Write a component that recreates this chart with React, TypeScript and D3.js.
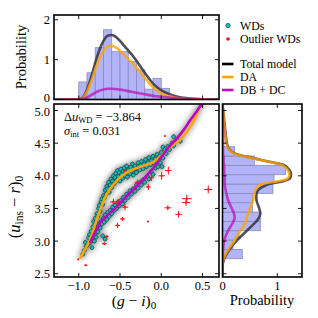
import React, { useEffect, useRef } from "react";
import * as d3 from "d3";

// ---- top histogram of (g-i)_0 ----
const topBinEdges = [-1.0, -0.9, -0.8, -0.7, -0.6, -0.5, -0.4, -0.3, -0.2, -0.1, 0.0, 0.1, 0.2];
const topBinHeights = [0.44, 0.67, 1.3, 1.75, 1.2, 1.2, 0.95, 0.74, 0.26, 0.53, 0.28, 0.05];

// model curves, top panel
const topX = [-1.3, -1.0, -0.95, -0.9, -0.85, -0.8, -0.75, -0.7, -0.65, -0.6, -0.55, -0.5, -0.45, -0.4, -0.35, -0.3, -0.25, -0.2, -0.15, -0.1, -0.05, 0.0, 0.1, 0.2, 0.3, 0.4, 0.5, 0.7];
const topTotal = [0, 0, 0.05, 0.25, 0.56, 0.92, 1.24, 1.47, 1.6, 1.62, 1.57, 1.47, 1.35, 1.23, 1.11, 0.97, 0.82, 0.67, 0.53, 0.4, 0.31, 0.23, 0.13, 0.07, 0.035, 0.015, 0.005, 0];
const topDA = [0, 0, 0.04, 0.2, 0.45, 0.75, 1.02, 1.22, 1.33, 1.35, 1.31, 1.22, 1.12, 1.02, 0.92, 0.8, 0.67, 0.54, 0.42, 0.31, 0.23, 0.16, 0.08, 0.035, 0.015, 0.005, 0, 0];
const topDB = [0, 0, 0.01, 0.05, 0.11, 0.17, 0.22, 0.25, 0.27, 0.27, 0.26, 0.25, 0.23, 0.21, 0.19, 0.17, 0.15, 0.13, 0.11, 0.095, 0.08, 0.07, 0.05, 0.035, 0.02, 0.01, 0.005, 0];

// ---- right histogram of (u_ins - r)_0 ----
const rightBinEdges = [2.73, 2.873, 3.016, 3.159, 3.302, 3.445, 3.588, 3.731, 3.874, 4.017, 4.16, 4.303, 4.446];
const rightBinWidths = [0.36, 0.19, 0.3, 0.69, 0.69, 0.55, 0.55, 0.92, 0.94, 1.15, 0.58, 0.22];

const rightY = [5.1, 4.7, 4.5, 4.42, 4.34, 4.29, 4.21, 4.16, 4.09, 4.02, 3.96, 3.92, 3.86, 3.77, 3.63, 3.5, 3.42, 3.35, 3.27, 3.14, 3.01, 2.86, 2.71, 2.45];
const rightTotal = [0, 0.05, 0.08, 0.11, 0.23, 0.46, 0.88, 1.13, 1.22, 1.25, 1.23, 1.12, 0.8, 0.64, 0.62, 0.67, 0.69, 0.66, 0.58, 0.42, 0.26, 0.12, 0.02, 0];
const rightDA = [0, 0.04, 0.07, 0.1, 0.22, 0.44, 0.86, 1.1, 1.19, 1.22, 1.19, 1.04, 0.68, 0.59, 0.56, 0.5, 0.47, 0.44, 0.41, 0.31, 0.22, 0.1, 0.01, 0];
const rightDB = [0, 0.01, 0.01, 0.01, 0.01, 0.02, 0.02, 0.03, 0.03, 0.03, 0.04, 0.04, 0.04, 0.06, 0.1, 0.17, 0.21, 0.22, 0.18, 0.09, 0.03, 0.01, 0, 0];

// ---- main panel model tracks ----
const daCurveG = [-0.985, -0.93, -0.864, -0.8, -0.74, -0.68, -0.62, -0.52, -0.43, -0.339, -0.25, -0.176, -0.1, -0.055, 0.0, 0.066, 0.15, 0.227, 0.3, 0.35, 0.4, 0.47, 0.52];
const daCurveU = [2.73, 2.86, 3.02, 3.26, 3.48, 3.67, 3.8, 3.95, 4.04, 4.1, 4.14, 4.17, 4.21, 4.25, 4.31, 4.4, 4.48, 4.55, 4.66, 4.75, 4.86, 5.06, 5.15];
const dbCurveG = [-0.864, -0.8, -0.74, -0.66, -0.58, -0.5, -0.42, -0.34, -0.258, -0.18, -0.097, 0.025, 0.1, 0.187, 0.27, 0.35, 0.42, 0.49, 0.52];
const dbCurveU = [2.97, 3.14, 3.28, 3.39, 3.48, 3.58, 3.69, 3.79, 3.89, 4.0, 4.12, 4.33, 4.45, 4.57, 4.7, 4.85, 4.97, 5.1, 5.15];

// WDs: [(g-i)_0, (u_ins-r)_0]
const wdPoints: [number, number][] = [
  [-0.95, 2.8], [-0.93, 2.86], [-0.91, 2.92], [-0.92, 2.98], [-0.89, 2.95], [-0.88, 3.05], [-0.87, 3.1], [-0.86, 3.0],
  [-0.85, 3.15], [-0.84, 3.08], [-0.83, 3.22], [-0.82, 3.3], [-0.81, 3.18], [-0.8, 3.35], [-0.79, 3.28], [-0.78, 3.42],
  [-0.77, 3.38], [-0.76, 3.5], [-0.75, 3.55], [-0.74, 3.46], [-0.73, 3.6], [-0.72, 3.65], [-0.71, 3.56], [-0.7, 3.7],
  [-0.69, 3.66], [-0.68, 3.78], [-0.67, 3.72], [-0.66, 3.84], [-0.65, 3.8], [-0.64, 3.9], [-0.63, 3.75], [-0.62, 3.86],
  [-0.61, 3.95], [-0.6, 3.82], [-0.59, 3.92], [-0.58, 4.0], [-0.57, 3.88], [-0.56, 3.97], [-0.55, 4.04], [-0.54, 3.93],
  [-0.53, 4.08], [-0.52, 3.99], [-0.51, 4.05], [-0.5, 3.92], [-0.49, 4.1], [-0.48, 4.02], [-0.47, 3.96], [-0.46, 4.07],
  [-0.45, 4.12], [-0.44, 4.0], [-0.43, 4.05], [-0.42, 4.15], [-0.41, 3.98], [-0.4, 4.09], [-0.38, 4.03], [-0.37, 4.13],
  [-0.36, 4.07], [-0.35, 4.18], [-0.34, 4.01], [-0.33, 4.1], [-0.32, 4.15], [-0.3, 4.05], [-0.29, 4.12], [-0.28, 4.2],
  [-0.26, 4.09], [-0.25, 4.16], [-0.24, 4.22], [-0.22, 4.11], [-0.21, 4.18], [-0.19, 4.25], [-0.18, 4.14], [-0.16, 4.2],
  [-0.15, 4.28], [-0.13, 4.17], [-0.12, 4.23], [-0.1, 4.3], [-0.09, 4.2], [-0.07, 4.26], [-0.05, 4.33], [-0.04, 4.22],
  [-0.02, 4.3], [0.0, 4.36], [0.02, 4.27], [0.02, 4.44], [0.04, 4.4], [0.06, 4.34], [0.08, 4.45], [0.1, 4.4],
  [0.13, 4.5], [0.15, 4.6], [0.15, 4.46], [0.19, 4.55], [0.23, 4.53],
  [-0.86, 2.98], [-0.84, 2.9], [-0.83, 3.05], [-0.81, 3.0], [-0.8, 3.12], [-0.79, 3.06], [-0.78, 3.2], [-0.77, 3.14],
  [-0.76, 3.25], [-0.74, 3.2], [-0.73, 3.3], [-0.72, 3.26], [-0.71, 3.08], [-0.7, 3.35], [-0.69, 3.29], [-0.68, 3.4],
  [-0.68, 3.03], [-0.66, 3.33], [-0.65, 3.44], [-0.63, 3.38], [-0.62, 3.47], [-0.6, 3.42], [-0.59, 3.52], [-0.57, 3.47],
  [-0.56, 3.55], [-0.54, 3.5], [-0.52, 3.6], [-0.51, 3.54], [-0.49, 3.62], [-0.47, 3.57], [-0.46, 3.67], [-0.44, 3.62],
  [-0.42, 3.72], [-0.4, 3.67], [-0.38, 3.77], [-0.36, 3.72], [-0.34, 3.8], [-0.32, 3.76], [-0.3, 3.86], [-0.28, 3.81],
  [-0.26, 3.9], [-0.24, 3.86], [-0.22, 3.94], [-0.2, 3.9], [-0.17, 3.99], [-0.15, 3.95], [-0.12, 4.06], [-0.1, 4.02],
  [-0.07, 4.12], [-0.04, 4.14], [-0.01, 4.2], [0.01, 4.14],
];
const wdErrG = 0.03;
const wdErrU = 0.04;

// outliers: [(g-i)_0, (u_ins-r)_0, err g, err u]
const outliers: [number, number, number, number][] = [
  [0.086, 4.08, 0.04, 0.06], [0.005, 4.0, 0.04, 0.06], [-0.157, 3.83, 0.03, 0.05], [-0.12, 3.97, 0.03, 0.05],
  [-0.29, 3.9, 0.03, 0.04], [0.57, 3.79, 0.05, 0.06], [0.31, 3.65, 0.06, 0.06], [0.3, 3.59, 0.05, 0.05],
  [0.08, 3.51, 0.04, 0.04], [0.21, 3.41, 0.04, 0.05], [-0.16, 3.3, 0, 0], [-0.58, 3.6, 0.04, 0.05],
  [-0.52, 3.6, 0.03, 0.04], [-0.44, 3.52, 0.04, 0.05], [-0.47, 3.34, 0.03, 0.03], [-0.53, 3.24, 0.03, 0.04],
  [-0.66, 3.07, 0.02, 0.02], [-0.69, 2.96, 0.03, 0.02], [-1.005, 2.72, 0, 0], [-0.915, 2.63, 0.02, 0],
  [0.045, 4.61, 0, 0], [-0.45, 4.08, 0, 0],
];

const xTicks = [-1.0, -0.5, 0.0, 0.5];
const yTicks = [2.5, 3.0, 3.5, 4.0, 4.5, 5.0];
const topYTicks = [0, 1, 2];
const rightXTicks = [0, 1];

const serif = "'Liberation Serif', 'DejaVu Serif', serif";
const HIST_FILL = "#b3b3fa";
const HIST_EDGE = "#8a8ab8";
const C_TOTAL = "#3c3c4a";
const C_DA = "#ffa500";
const C_DB = "#bb10bb";

export default function App() {
  const ref = useRef<SVGSVGElement>(null);

  useEffect(() => {
    const svg = d3.select(ref.current);
    svg.selectAll("*").remove();

    const main = { x0: 54, x1: 219, y0: 104, y1: 277 };
    const top = { x0: 54, x1: 219, y0: 15, y1: 99.5 };
    const right = { x0: 222.5, x1: 302, y0: 104, y1: 277 };

    const x = d3.scaleLinear().domain([-1.3, 0.7]).range([main.x0, main.x1]);
    const y = d3.scaleLinear().domain([2.45, 5.1]).range([main.y1, main.y0]);
    const yT = d3.scaleLinear().domain([0, 2.12]).range([top.y1, top.y0]);
    const xR = d3.scaleLinear().domain([0, 1.45]).range([right.x0, right.x1]);

    const defs = svg.append("defs");
    const blur = defs.append("filter").attr("id", "glow")
      .attr("x", "-20%").attr("y", "-20%").attr("width", "140%").attr("height", "140%");
    blur.append("feGaussianBlur").attr("stdDeviation", 2.4);
    const addClip = (id: string, b: any) =>
      defs.append("clipPath").attr("id", id).append("rect")
        .attr("x", b.x0).attr("y", b.y0).attr("width", b.x1 - b.x0).attr("height", b.y1 - b.y0);
    addClip("clipMain", main);
    addClip("clipTop", top);
    addClip("clipRight", right);

    svg.append("rect").attr("width", 318).attr("height", 318).attr("fill", "#fff");

    // ---------- top panel ----------
    const gTop = svg.append("g").attr("clip-path", "url(#clipTop)");
    gTop.selectAll(".tbar")
      .data(topBinHeights)
      .join("rect")
      .attr("x", (d, i) => x(topBinEdges[i]))
      .attr("y", (d) => yT(d))
      .attr("width", (d, i) => x(topBinEdges[i + 1]) - x(topBinEdges[i]))
      .attr("height", (d) => yT(0) - yT(d))
      .attr("fill", HIST_FILL)
      .attr("stroke", HIST_EDGE)
      .attr("stroke-width", 0.8);

    const lineTop = (vals: number[]) =>
      d3.line<number>().x((d, i) => x(topX[i])).y((d) => yT(d)).curve(d3.curveMonotoneX)(vals);
    gTop.append("path").attr("d", lineTop(topTotal)).attr("fill", "none")
      .attr("stroke", C_TOTAL).attr("stroke-width", 2.6).attr("opacity", 0.9);
    gTop.append("path").attr("d", lineTop(topDA)).attr("fill", "none")
      .attr("stroke", C_DA).attr("stroke-width", 2.6).attr("opacity", 0.8);
    gTop.append("path").attr("d", lineTop(topDB)).attr("fill", "none")
      .attr("stroke", C_DB).attr("stroke-width", 2.6).attr("opacity", 0.75);

    // ---------- main panel ----------
    const gMain = svg.append("g").attr("clip-path", "url(#clipMain)");
    const glow = gMain.append("g").attr("filter", "url(#glow)");
    glow.selectAll("circle").data(wdPoints).join("circle")
      .attr("cx", (d) => x(d[0])).attr("cy", (d) => y(d[1])).attr("r", 3.8)
      .attr("fill", "#7a7a7a").attr("opacity", 0.5);
    const trackLine = (gs: number[], us: number[]) =>
      d3.line<number>().x((d) => x(d)).y((d, i) => y(us[i])).curve(d3.curveCatmullRom)(gs);
    glow.append("path").attr("d", trackLine(daCurveG, daCurveU)).attr("fill", "none")
      .attr("stroke", "#999").attr("stroke-width", 7).attr("opacity", 0.6);
    glow.append("path").attr("d", trackLine(dbCurveG, dbCurveU)).attr("fill", "none")
      .attr("stroke", "#999").attr("stroke-width", 7).attr("opacity", 0.6);

    // WD error bars
    const eb = gMain.append("g").attr("stroke", "#5a5a5a").attr("stroke-width", 0.8).attr("opacity", 0.8);
    wdPoints.forEach(([g, u]) => {
      eb.append("line").attr("x1", x(g - wdErrG)).attr("x2", x(g + wdErrG)).attr("y1", y(u)).attr("y2", y(u));
      eb.append("line").attr("x1", x(g)).attr("x2", x(g)).attr("y1", y(u - wdErrU)).attr("y2", y(u + wdErrU));
    });

    // WD points
    gMain.selectAll(".wd").data(wdPoints).join("circle")
      .attr("class", "wd")
      .attr("cx", (d) => x(d[0])).attr("cy", (d) => y(d[1])).attr("r", 1.9)
      .attr("fill", "#1fb8b8").attr("stroke", "#0b3b3b").attr("stroke-width", 0.6);

    // outliers
    const og = gMain.append("g").attr("stroke", "#ff1010").attr("stroke-width", 1);
    outliers.forEach(([g, u, eg, eu]) => {
      if (eg > 0) og.append("line").attr("x1", x(g - eg)).attr("x2", x(g + eg)).attr("y1", y(u)).attr("y2", y(u));
      if (eu > 0) og.append("line").attr("x1", x(g)).attr("x2", x(g)).attr("y1", y(u - eu)).attr("y2", y(u + eu));
      og.append("circle").attr("cx", x(g)).attr("cy", y(u)).attr("r", 1.1).attr("fill", "#ff1010").attr("stroke", "none");
    });

    gMain.append("path").attr("d", trackLine(daCurveG, daCurveU)).attr("fill", "none")
      .attr("stroke", C_DA).attr("stroke-width", 2.6);
    gMain.append("path").attr("d", trackLine(dbCurveG, dbCurveU)).attr("fill", "none")
      .attr("stroke", "#c000c0").attr("stroke-width", 2.6);

    // ---------- right panel ----------
    const gRight = svg.append("g").attr("clip-path", "url(#clipRight)");
    gRight.selectAll(".rbar").data(rightBinWidths).join("rect")
      .attr("x", xR(0))
      .attr("y", (d, i) => y(rightBinEdges[i + 1]))
      .attr("width", (d) => xR(d) - xR(0))
      .attr("height", (d, i) => y(rightBinEdges[i]) - y(rightBinEdges[i + 1]))
      .attr("fill", HIST_FILL).attr("stroke", HIST_EDGE).attr("stroke-width", 0.8);
    const lineRight = (vals: number[]) =>
      d3.line<number>().x((d) => xR(d)).y((d, i) => y(rightY[i])).curve(d3.curveCatmullRom)(vals);
    gRight.append("path").attr("d", lineRight(rightTotal)).attr("fill", "none")
      .attr("stroke", C_TOTAL).attr("stroke-width", 2.6).attr("opacity", 0.9);
    gRight.append("path").attr("d", lineRight(rightDA)).attr("fill", "none")
      .attr("stroke", C_DA).attr("stroke-width", 2.6).attr("opacity", 0.8);
    gRight.append("path").attr("d", lineRight(rightDB)).attr("fill", "none")
      .attr("stroke", C_DB).attr("stroke-width", 2.6).attr("opacity", 0.75);

    // ---------- frames and ticks ----------
    const tl = 4;
    const frame = (b: any, xs: number[], sx: any, ys: number[], sy: any) => {
      const g = svg.append("g").attr("stroke", "#000").attr("stroke-width", 0.9);
      xs.forEach((v) => {
        const px = sx(v);
        g.append("line").attr("x1", px).attr("x2", px).attr("y1", b.y1).attr("y2", b.y1 - tl);
        g.append("line").attr("x1", px).attr("x2", px).attr("y1", b.y0).attr("y2", b.y0 + tl);
      });
      ys.forEach((v) => {
        const py = sy(v);
        g.append("line").attr("x1", b.x0).attr("x2", b.x0 + tl).attr("y1", py).attr("y2", py);
        g.append("line").attr("x1", b.x1).attr("x2", b.x1 - tl).attr("y1", py).attr("y2", py);
      });
      svg.append("rect").attr("x", b.x0).attr("y", b.y0)
        .attr("width", b.x1 - b.x0).attr("height", b.y1 - b.y0)
        .attr("fill", "none").attr("stroke", "#000").attr("stroke-width", 1.6);
    };
    frame(top, xTicks, x, topYTicks, yT);
    frame(main, xTicks, x, yTicks, y);
    frame(right, rightXTicks, xR, yTicks, y);

    const fmt = (v: number) => (v < 0 ? "\u2212" + Math.abs(v).toFixed(1) : v.toFixed(1));
    const txt = svg.append("g").attr("font-family", serif).attr("font-size", 12.5).attr("fill", "#000");
    xTicks.forEach((v) =>
      txt.append("text").attr("x", x(v)).attr("y", 290).attr("text-anchor", "middle").text(fmt(v)));
    yTicks.forEach((v) =>
      txt.append("text").attr("x", 50).attr("y", y(v) + (v === 5 ? 5 : 4.5)).attr("text-anchor", "end").text(v.toFixed(1)));
    topYTicks.forEach((v) =>
      txt.append("text").attr("x", 50).attr("y", yT(v) + (v === 0 ? 2.5 : 4.5)).attr("text-anchor", "end").text(String(v)));
    rightXTicks.forEach((v) =>
      txt.append("text").attr("x", xR(v)).attr("y", 290).attr("text-anchor", "middle").text(String(v)));

    // axis titles
    const lab = svg.append("g").attr("font-family", serif).attr("font-size", 14.5).attr("fill", "#000");
    lab.append("text").attr("transform", "translate(26,57) rotate(-90)")
      .attr("text-anchor", "middle").text("Probability");
    lab.append("text").attr("x", 262).attr("y", 305).attr("text-anchor", "middle").text("Probability");

    const xl = lab.append("text").attr("x", 134).attr("y", 305.5).attr("text-anchor", "middle").attr("font-size", 15.5);
    xl.append("tspan").text("(");
    xl.append("tspan").attr("font-style", "italic").text("g");
    xl.append("tspan").text(" \u2212 ");
    xl.append("tspan").attr("font-style", "italic").text("i");
    xl.append("tspan").text(")");
    xl.append("tspan").attr("font-size", 11).attr("dy", 3).text("0");

    const yl = lab.append("text").attr("transform", "translate(20,207) rotate(-90)")
      .attr("text-anchor", "middle").attr("font-size", 16.5);
    yl.append("tspan").text("(");
    yl.append("tspan").attr("font-style", "italic").text("u");
    yl.append("tspan").attr("font-size", 11.5).attr("dy", 3).text("ins");
    yl.append("tspan").attr("dy", -3).text(" \u2212 ");
    yl.append("tspan").attr("font-style", "italic").text("r");
    yl.append("tspan").text(")");
    yl.append("tspan").attr("font-size", 11.5).attr("dy", 3).text("0");

    // annotation
    const ann = svg.append("g").attr("font-family", serif).attr("font-size", 12.5).attr("fill", "#000");
    const a1 = ann.append("text").attr("x", 64).attr("y", 120.5);
    a1.append("tspan").text("\u0394");
    a1.append("tspan").attr("font-style", "italic").text("u");
    a1.append("tspan").attr("font-size", 8.5).attr("dy", 2).text("WD");
    a1.append("tspan").attr("dy", -2).text(" = \u22123.864");
    const a2 = ann.append("text").attr("x", 64).attr("y", 134.5);
    a2.append("tspan").attr("font-style", "italic").text("\u03c3");
    a2.append("tspan").attr("font-size", 8.5).attr("dy", 2).text("int");
    a2.append("tspan").attr("dy", -2).text(" = 0.031");

    // legend
    const leg = svg.append("g").attr("font-family", serif).attr("font-size", 11.8).attr("fill", "#000");
    leg.append("circle").attr("cx", 228).attr("cy", 25.5).attr("r", 2.2)
      .attr("fill", "#1fb8b8").attr("stroke", "#0b3b3b").attr("stroke-width", 0.6);
    leg.append("text").attr("x", 240).attr("y", 29.5).text("WDs");
    leg.append("circle").attr("cx", 228).attr("cy", 39).attr("r", 1.8).attr("fill", "#ff1010");
    leg.append("text").attr("x", 240).attr("y", 43).text("Outlier WDs");
    const legLines: [string, string, number][] = [
      ["Total model", "#000", 64],
      ["DA", C_DA, 77],
      ["DB + DC", C_DB, 90],
    ];
    legLines.forEach(([name, c, ly]) => {
      leg.append("line").attr("x1", 222).attr("x2", 233.5).attr("y1", ly).attr("y2", ly)
        .attr("stroke", c).attr("stroke-width", 2.6);
      leg.append("text").attr("x", 240).attr("y", ly + 4).text(name);
    });
  }, []);

  return (
    <svg
      ref={ref}
      width={318}
      height={318}
      style={{ position: "absolute", left: 0, top: 0, display: "block" }}
    />
  );
}
